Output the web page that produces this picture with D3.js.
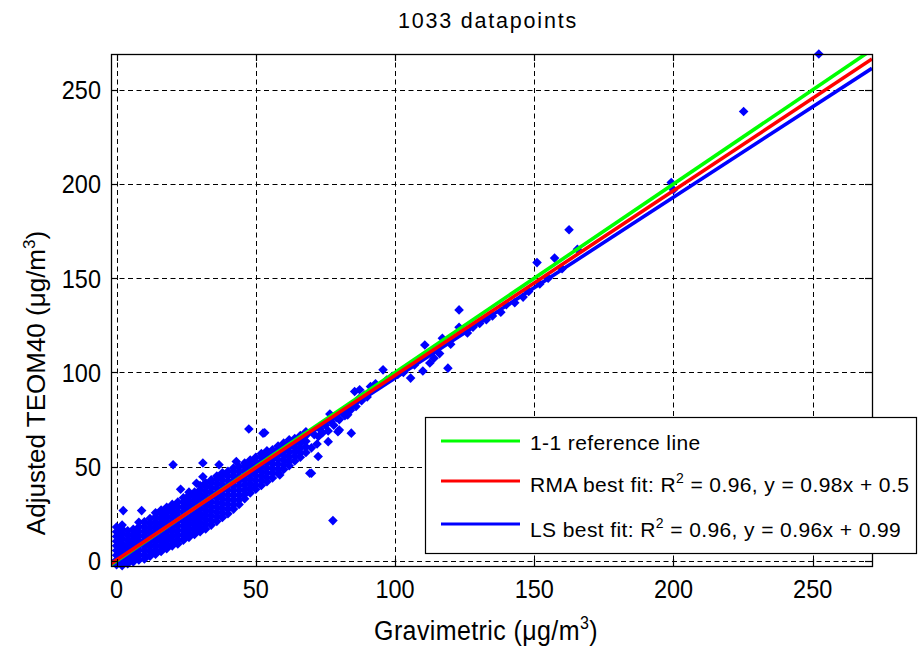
<!DOCTYPE html>
<html><head><meta charset="utf-8">
<script src="https://cdn.jsdelivr.net/npm/d3@7"></script>
<style>
body{margin:0;background:#fff}
svg{display:block}
text{font-family:"Liberation Sans",Arial,sans-serif;fill:#000}
</style>
</head><body>
<svg id="c" width="918" height="646"></svg>
<script>
// ---------------- data ----------------
const titleText = "1033 datapoints";
const xTicks = [0, 50, 100, 150, 200, 250];
const yTicks = [0, 50, 100, 150, 200, 250];

// dense band: gravimetric column values and TEOM values in each column
const bandX = [0,2,4,6,8,10,12,14,16,18,20,22,24,26,28,30,32,34,36,38,40,42,44,46,48,50,52,54,56,58,60,62,64,66,68];
const bandY = [
  [-2,0.5,3,5.5,8,10.5,13,15.5,18],
  [-2.5,-0.5,1.8,4.3,6.8,9.3,11.8,14.3,16.8,19],
  [-1.5,1,3.5,6,8.5,11,13.5,16],
  [-0.5,1.8,4.3,6.8,9.3,11.8,14.3,16.8],
  [0.5,3,5.5,8,10.5,13,15.5,18,20.5],
  [1,3.3,5.8,8.3,10.8,13.3,15.8,18.3,20.8],
  [2.5,5,7.5,10,12.5,15,17.5,20,22.5],
  [3.5,5.8,8.3,10.8,13.3,15.8,18.3,20.8,23.3,25.5],
  [5,7.5,10,12.5,15,17.5,20,22.5,25,27],
  [6.5,8.8,11.3,13.8,16.3,18.8,21.3,23.8,26.3,28.5],
  [8,10.5,13,15.5,18,20.5,23,25.5,28,30],
  [9,11.3,13.8,16.3,18.8,21.3,23.8,26.3,28.8,31.3],
  [11,13.5,16,18.5,21,23.5,26,28.5,31,33.5],
  [12.5,14.8,17.3,19.8,22.3,24.8,27.3,29.8,32.3,34.8,36.5],
  [14,16.5,19,21.5,24,26.5,29,31.5,34,36.5],
  [15.5,17.8,20.3,22.8,25.3,27.8,30.3,32.8,35.3,37.8,40],
  [17,19.5,22,24.5,27,29.5,32,34.5,37,39.5,41.5],
  [19,21.3,23.8,26.3,28.8,31.3,33.8,36.3,38.8,41.3,43],
  [21,23.5,26,28.5,31,33.5,36,38.5,41,43.5,45],
  [23,25.3,27.8,30.3,32.8,35.3,37.8,40.3,42.8,45.3,46.8],
  [25,27.5,30,32.5,35,37.5,40,42.5,45,47.5],
  [27.5,29.8,32.3,34.8,37.3,39.8,42.3,44.8,47.3,49.3],
  [30,32.5,35,37.5,40,42.5,45,47.5,50],
  [33,35.3,37.8,40.3,42.8,45.3,47.8,50.3,52],
  [36,38.5,41,43.5,46,48.5,51,53.5],
  [38,40.3,42.8,45.3,47.8,50.3,52.8,55],
  [40,42.5,45,47.5,50,52.5,55,57],
  [42,44.3,46.8,49.3,51.8,54.3,56.8,58.5],
  [44,46.5,49,51.5,54,56.5,59],
  [46.5,48.8,51.3,53.8,56.3,58.8,61],
  [48.5,51,53.5,56,58.5,61,62.5],
  [50.5,52.8,55.3,57.8,60.3,62.8,64.3],
  [53,55.5,58,60.5,63,65],
  [55,57.3,59.8,62.3,64.8,66.5],
  [57.5,60.5,63.5,66.5,68.5]
];

// sparse / outlying points
const sparseX = [2.4,9,20.3,23,28.7,31,31,36.8,43,47.5,52.6,53.2,58.6,69.4,70,72.4,76,77.7,79.5,80,84.3,76.6,83,85.5,
  70,71,72,72.5,73,74,75,76,77,78,79,80,81,82,83,84,85,86,87,88,89,90,
  87.3,91.2,93,95.7,97,99,101,103,105.6,107,110,110.7,112.5,114,116,117,119,120,123,123,126,128,130.4,132.8,135,138,140,143,146,148,
  151,152,155,157.3,160,162.5,165.5,199.2,200,225.2,252.2];
const sparseY = [26.7,26.7,51,38,41.2,52,44.7,51,52.7,70,67.8,68,45.6,46.5,46.5,55.4,63.3,21.4,68.6,69.5,67.8,78,77.5,89.9,
  60,67,62,66,70,68,72,69,74,72,76,75,79,77,81,80,83,82,86,85,88,87,
  90.8,92.5,94,101.4,96,98,99,100,97,104,100.8,114.6,105,107.6,110,118.2,102.3,115,124,133.2,121,124,126,128,130,132,136,137,140,143,
  158.3,147,150,160.7,155,175.7,165.4,200.8,197,238.5,269];

// fits
const fitNames = ["1-1 reference line", "RMA best fit: R", "LS best fit: R"];
const fitR2 = [null, "2", "2"];
const fitTail = ["", " = 0.96, y = 0.98x + 0.5", " = 0.96, y = 0.96x + 0.99"];
const fitSlope = [1, 0.98, 0.96];
const fitIntercept = [0, 0.5, 0.99];

// ---------------- drawing ----------------
const fitColors = ["#00ff00", "#ff0000", "#0000ff"];
const L = 111, R = 872, T = 54, B = 566;
const svg = d3.select("#c");
const x = d3.scaleLinear().domain([-2, 271.3]).range([L, R]);
const y = d3.scaleLinear().domain([-2.7, 269]).range([B, T]);

svg.append("rect").attr("width", 918).attr("height", 646).attr("fill", "#fff");
svg.append("clipPath").attr("id", "clip").append("rect")
  .attr("x", L).attr("y", T).attr("width", R - L).attr("height", B - T);

// grid
const grid = svg.append("g").attr("stroke", "#000").attr("stroke-width", 1).attr("stroke-dasharray", "5,3.5");
grid.selectAll(".gx").data(xTicks).join("line")
  .attr("x1", d => Math.round(x(d)) + 0.5).attr("x2", d => Math.round(x(d)) + 0.5)
  .attr("y1", T).attr("y2", B);
grid.selectAll(".gy").data(yTicks).join("line")
  .attr("y1", d => Math.round(y(d)) + 0.5).attr("y2", d => Math.round(y(d)) + 0.5)
  .attr("x1", L).attr("x2", R);

// points
const pts = [];
bandX.forEach((gx, i) => bandY[i].forEach(v => pts.push([gx, v])));
sparseX.forEach((gx, i) => pts.push([gx, sparseY[i]]));
const sym = d3.symbol(d3.symbolSquare, 46);
svg.append("g").selectAll("path").data(pts).join("path")
  .attr("d", sym)
  .attr("fill", "#0000ff")
  .attr("transform", d => `translate(${x(d[0])},${y(d[1])}) rotate(45)`);

// fit lines
const lineGen = d3.line().x(d => x(d[0])).y(d => y(d[1]));
const order = [2, 0, 1];
svg.append("g").attr("clip-path", "url(#clip)").selectAll("path").data(order).join("path")
  .attr("d", i => lineGen([[-2, fitSlope[i] * -2 + fitIntercept[i]], [271.3, fitSlope[i] * 271.3 + fitIntercept[i]]]))
  .attr("stroke", i => fitColors[i]).attr("stroke-width", 3.6).attr("fill", "none");

// axes box + ticks
svg.append("rect").attr("x", L + 0.5).attr("y", T + 0.5).attr("width", R - L).attr("height", B - T)
  .attr("fill", "none").attr("stroke", "#000").attr("stroke-width", 1.3);
const tk = svg.append("g").attr("stroke", "#000").attr("stroke-width", 1.2);
xTicks.forEach(t => {
  const px = Math.round(x(t)) + 0.5;
  tk.append("line").attr("x1", px).attr("x2", px).attr("y1", B).attr("y2", B - 7);
  tk.append("line").attr("x1", px).attr("x2", px).attr("y1", T).attr("y2", T + 7);
});
yTicks.forEach(t => {
  const py = Math.round(y(t)) + 0.5;
  tk.append("line").attr("y1", py).attr("y2", py).attr("x1", L).attr("x2", L + 7);
  tk.append("line").attr("y1", py).attr("y2", py).attr("x1", R).attr("x2", R - 7);
});

// tick labels
svg.append("g").selectAll("text").data(xTicks).join("text")
  .attr("transform", d => `translate(${x(d)},598) scale(1,1.12)`)
  .attr("text-anchor", "middle").attr("font-size", 23.5).text(d => d);
svg.append("g").selectAll("text").data(yTicks).join("text")
  .attr("transform", d => `translate(101,${y(d) + 9.4}) scale(1,1.12)`)
  .attr("text-anchor", "end").attr("font-size", 23.5).text(d => d);

// title
svg.append("text").attr("x", 488).attr("y", 28).attr("text-anchor", "middle")
  .attr("font-size", 21.5).attr("letter-spacing", 1.8).text(titleText);

// x label
const xl = svg.append("text").attr("transform", "translate(486,640) scale(1,1.12)")
  .attr("text-anchor", "middle").attr("font-size", 25).attr("letter-spacing", 0.4);
xl.append("tspan").text("Gravimetric (\u03bcg/m");
xl.append("tspan").attr("font-size", 16).attr("dy", -10).text("3");
xl.append("tspan").attr("dy", 10).text(")");

// y label
const yl = svg.append("text").attr("transform", "translate(45,383) rotate(-90)")
  .attr("text-anchor", "middle").attr("font-size", 26);
yl.append("tspan").text("Adjusted TEOM40 (\u03bcg/m");
yl.append("tspan").attr("font-size", 17).attr("dy", -10).text("3");
yl.append("tspan").attr("dy", 10).text(")");

// legend
const lg = svg.append("g");
lg.append("rect").attr("x", 425.5).attr("y", 417.5).attr("width", 491).attr("height", 136)
  .attr("fill", "#fff").attr("stroke", "#000").attr("stroke-width", 1.2);
const rowLineY = [441, 481, 524];
const rowTextY = [450, 492, 537];
fitNames.forEach((nm, i) => {
  lg.append("line").attr("x1", 441).attr("x2", 520).attr("y1", rowLineY[i]).attr("y2", rowLineY[i])
    .attr("stroke", fitColors[i]).attr("stroke-width", 3.2);
  const t = lg.append("text").attr("x", 530).attr("y", rowTextY[i]).attr("font-size", 21).attr("letter-spacing", 0.4);
  t.append("tspan").text(nm);
  if (fitR2[i]) {
    t.append("tspan").attr("font-size", 14).attr("dy", -9).text(fitR2[i]);
    t.append("tspan").attr("dy", 9).text(fitTail[i]);
  }
});
</script>
</body></html>
